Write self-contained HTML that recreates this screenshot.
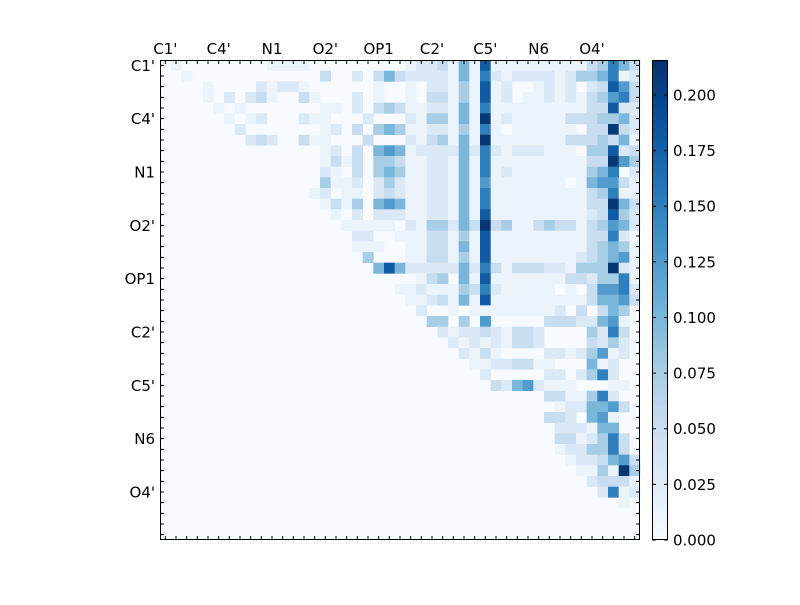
<!DOCTYPE html>
<html><head><meta charset="utf-8"><style>
html,body{margin:0;padding:0;background:#fff;}
svg text{font-family:"DejaVu Sans","Liberation Sans",sans-serif;font-size:15px;fill:#000;}
</style></head><body>
<svg id="s" width="800" height="600" xmlns="http://www.w3.org/2000/svg"></svg>
<script>
const Z=n=>"0".repeat(n);
const R=[
"0100000000 1111000000 0001223151 8111111111 34753",
"0010000000 0000030020 3532222151 7212222124 45712",
"0000100002 1221000000 1001022141 8120012120 23863",
"0000102023 1003100020 1001033141 8120112121 34673",
"0000010100 0000011020 3431122151 7111111111 33822",
"0000001012 0002110002 0002144151 9121111133 34452",
"0000000200 0000012030 4541122141 7101111110 33932",
"0000000023 2003110003 0002134151 9111111133 34351",
"0000000000 0000012030 5651222252 7212221110 44823",
"0000000000 0000013130 4431122151 7111111111 33964",
"0000000000 0000021030 4541122151 7121111111 45702",
"0000000000 0000041120 2421122151 6111111101 56631",
"0000000000 0000120110 2321122151 7111111111 34711",
"0000000000 0000013140 5651122151 7111111111 33953",
"0000000000 0000001020 2221122151 8111111111 23842",
"0000000000 0000000111 1102144253 9341134331 34652",
"0000000000 0000000022 0011133141 8111111111 33720",
"0000000000 0000000011 1001133151 8111111111 34541",
"0000000000 0000000004 0001133141 8111111112 34561",
"0000000000 0000000000 5852222252 7313332214 44921",
Z(20)+"0000134051 8111111133 24471",
Z(20)+"0011211143 7211111010 36672",
Z(20)+"0001123151 8111111111 35563",
Z(20)+"0000200101 1111111203 03540",
Z(20)+"0000044040 6000003332 25610",
Z(20)+"0000002122 3213320000 42730",
Z(20)+"0000000212 1213320000 32420",
Z(20)+"0000000021 3100002212 46120",
Z(20)+"0000000001 1223311000 51200",
Z(30)+"2000002202 47200",
Z(30)+"0325621110 00110",
Z(30)+"0000003311 47200",
Z(30)+"0000000122 55630",
Z(30)+"0000003320 56100",
Z(30)+"0000000222 15500",
Z(30)+"0000000331 24730",
Z(30)+"0000000122 44730",
Z(30)+"0000000012 23563",
Z(30)+"0000000001 14194",
Z(40)+"23331",
Z(40)+"02712",
Z(40)+"00010",
Z(45),Z(45),Z(45)].map(s=>s.replace(/ /g,""));
const stops=[[247,251,255],[222,235,247],[198,219,239],[158,202,225],[107,174,214],[66,146,198],[33,113,181],[8,81,156],[8,48,107]];
function cmap(t){t=Math.max(0,Math.min(1,t));const p=t*8,i=Math.min(7,Math.floor(p)),f=p-i;const a=stops[i],b=stops[i+1];return`rgb(${a.map((v,k)=>Math.round(v+(b[k]-v)*f)).join(',')})`;}
const vmax=0.2157, lv=[0,0.012,0.03,0.05,0.075,0.1,0.125,0.15,0.18,0.21];
let h='';const X0=160,Y0=60,C=480/45;
h+=`<rect x="160" y="60" width="480" height="480" fill="#f7fbff"/>`;
for(let i=0;i<45;i++)for(let j=0;j<45;j++){const d=+(R[i][j]||0);if(!d)continue;
h+=`<rect x="${(X0+j*C).toFixed(2)}" y="${(Y0+i*C).toFixed(2)}" width="${(C+0.3).toFixed(2)}" height="${(C+0.3).toFixed(2)}" fill="${cmap(lv[d]/vmax)}"/>`;}
let t='';
for(let k=0;k<45;k++){const px=(X0+(k+0.5)*C).toFixed(2),py=(Y0+(k+0.5)*C).toFixed(2);
t+=`M${px} 60v4M${px} 540v-4M160 ${py}h4M640 ${py}h-4`;}
h+=`<path d="${t}" stroke="#000" stroke-width="1" fill="none"/>`;
h+=`<rect x="160.5" y="60.5" width="479" height="479" fill="none" stroke="#000" stroke-width="1"/>`;
const L=["C1'","C4'","N1","O2'","OP1","C2'","C5'","N6","O4'"];
L.forEach((s,n)=>{const px=X0+(n*5+0.5)*C,py=Y0+(n*5+0.5)*C;
h+=`<text x="${px}" y="54" text-anchor="middle">${s}</text>`;
h+=`<text x="155" y="${py+5.5}" text-anchor="end">${s}</text>`;});
let g='<defs><linearGradient id="cb" x1="0" y1="1" x2="0" y2="0">';
for(let k=0;k<=8;k++)g+=`<stop offset="${k/8}" stop-color="rgb(${stops[k].join(',')})"/>`;
g+='</linearGradient></defs>';
h=g+h+`<rect x="652" y="60" width="16" height="480" fill="url(#cb)"/><rect x="652.5" y="60.5" width="15" height="479" fill="none" stroke="#000"/>`;
let ct='';
for(let k=0;k<=8;k++){const v=k*0.025,y=540-480*v/vmax;
ct+=`M652 ${y.toFixed(2)}h4M668 ${y.toFixed(2)}h-4`;
h+=`<text x="673" y="${(y+5.5).toFixed(2)}">${v.toFixed(3)}</text>`;}
h+=`<path d="${ct}" stroke="#000" fill="none"/>`;
document.getElementById('s').innerHTML=h;
</script>
</body></html>
